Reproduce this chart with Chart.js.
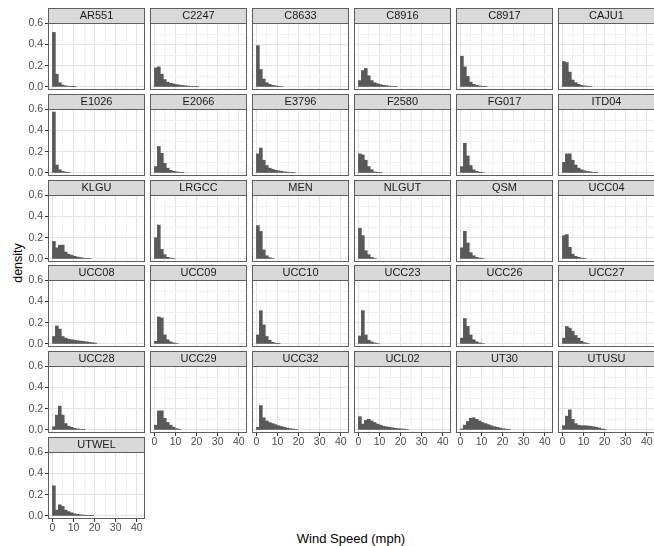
<!DOCTYPE html>
<html>
<head>
<meta charset="utf-8">
<script src="https://cdn.jsdelivr.net/npm/chart.js@4.4.0/dist/chart.umd.min.js"></script>
<style>
  html, body { margin: 0; padding: 0; }
  body {
    width: 654px; height: 546px; overflow: hidden; position: relative;
    background: #fff; font-family: "Liberation Sans", Arial, sans-serif;
  }
  canvas { position: absolute; }
  .axis-title { position: absolute; color: #000; white-space: nowrap; }
  #ylab { font-size: 12.5px; left: 18px; top: 263px; transform: translate(-50%, -50%) rotate(-90deg); }
  #xlab { font-size: 13px; left: 351px; top: 538px; transform: translate(-50%, -50%); }
</style>
</head>
<body>
<div id="ylab" class="axis-title">density</div>
<div id="xlab" class="axis-title">Wind Speed (mph)</div>
<script>
// --- Datos ---

// estaciones (orden de los paneles)
const sites = [
  'AR551', 'C2247', 'C8633', 'C8916', 'C8917', 'CAJU1',
  'E1026', 'E2066', 'E3796', 'F2580', 'FG017', 'ITD04',
  'KLGU', 'LRGCC', 'MEN', 'NLGUT', 'QSM', 'UCC04',
  'UCC08', 'UCC09', 'UCC10', 'UCC23', 'UCC26', 'UCC27',
  'UCC28', 'UCC29', 'UCC32', 'UCL02', 'UT30', 'UTUSU',
  'UTWEL'
];

// centros de los intervalos del histograma (mph)
const binCenters = [0.7, 2.1, 3.5, 4.9, 6.3, 7.7, 9.1, 10.5, 11.9, 13.3, 14.7, 16.1, 17.5, 18.9, 20.3, 21.7, 23.1];

// densidad por estación
const dAR551 = [0.515, 0.12, 0.04, 0.018, 0.01, 0.006, 0.003, 0.002];
const dC2247 = [0.18, 0.19, 0.12, 0.07, 0.045, 0.035, 0.028, 0.022, 0.018, 0.014, 0.011, 0.008, 0.006, 0.004, 0.003];
const dC8633 = [0.39, 0.165, 0.075, 0.04, 0.025, 0.015, 0.01, 0.006, 0.004];
const dC8916 = [0.06, 0.155, 0.175, 0.105, 0.06, 0.04, 0.03, 0.022, 0.016, 0.012, 0.008, 0.005, 0.003];
const dC8917 = [0.29, 0.19, 0.1, 0.045, 0.025, 0.015, 0.01, 0.006, 0.003];
const dCAJU1 = [0.24, 0.23, 0.14, 0.065, 0.04, 0.025, 0.015, 0.01, 0.007, 0.004];
const dE1026 = [0.575, 0.075, 0.03, 0.015, 0.008, 0.004];
const dE2066 = [0.06, 0.25, 0.185, 0.09, 0.045, 0.025, 0.015, 0.01, 0.006, 0.004];
const dE3796 = [0.18, 0.235, 0.12, 0.07, 0.045, 0.035, 0.025, 0.02, 0.015, 0.01, 0.007, 0.005, 0.003];
const dF2580 = [0.18, 0.17, 0.12, 0.06, 0.03, 0.01, 0.003, 0.006];
const dFG017 = [0.06, 0.28, 0.16, 0.07, 0.03, 0.015, 0.008, 0.004];
const dITD04 = [0.1, 0.18, 0.18, 0.12, 0.075, 0.045, 0.03, 0.02, 0.014, 0.01, 0.006, 0.004];
const dKLGU  = [0.165, 0.105, 0.13, 0.13, 0.065, 0.045, 0.035, 0.025, 0.018, 0.013, 0.008, 0.005, 0.003];
const dLRGCC = [0.2, 0.32, 0.09, 0.04, 0.015, 0.008, 0.004];
const dMEN   = [0.315, 0.26, 0.085, 0.03, 0.012, 0.005];
const dNLGUT = [0.29, 0.22, 0.078, 0.04, 0.015, 0.006];
const dQSM   = [0.105, 0.26, 0.15, 0.06, 0.03, 0.015, 0.008, 0.004];
const dUCC04 = [0.22, 0.23, 0.11, 0.045, 0.025, 0.015, 0.008, 0.004];
const dUCC08 = [0.07, 0.17, 0.14, 0.07, 0.055, 0.045, 0.04, 0.035, 0.03, 0.027, 0.024, 0.02, 0.016, 0.012, 0.008];
const dUCC09 = [0.025, 0.255, 0.245, 0.085, 0.04, 0.02, 0.01, 0.005];
const dUCC10 = [0.085, 0.315, 0.18, 0.07, 0.035, 0.015, 0.007, 0.003];
const dUCC23 = [0.075, 0.315, 0.085, 0.035, 0.02, 0.01, 0.005];
const dUCC26 = [0.055, 0.24, 0.165, 0.085, 0.04, 0.02, 0.01, 0.005];
const dUCC27 = [0.055, 0.165, 0.15, 0.12, 0.08, 0.055, 0.025, 0.012, 0.006];
const dUCC28 = [0.03, 0.14, 0.225, 0.14, 0.06, 0.035, 0.025, 0.015, 0.01, 0.006, 0.003];
const dUCC29 = [0.045, 0.18, 0.18, 0.11, 0.07, 0.045, 0.025, 0.012, 0.006];
const dUCC32 = [0.025, 0.23, 0.115, 0.085, 0.07, 0.06, 0.05, 0.04, 0.032, 0.025, 0.018, 0.012, 0.008, 0.005];
const dUCL02 = [0.125, 0.055, 0.09, 0.1, 0.085, 0.07, 0.055, 0.045, 0.035, 0.03, 0.025, 0.02, 0.015, 0.012, 0.01, 0.008, 0.005];
const dUT30  = [0.01, 0.045, 0.08, 0.11, 0.115, 0.1, 0.085, 0.07, 0.06, 0.05, 0.04, 0.03, 0.025, 0.018, 0.012, 0.008, 0.005];
const dUTUSU = [0.04, 0.13, 0.19, 0.1, 0.06, 0.045, 0.04, 0.04, 0.038, 0.035, 0.03, 0.025, 0.018, 0.01, 0.005];
const dUTWEL = [0.285, 0.055, 0.105, 0.09, 0.055, 0.04, 0.03, 0.02, 0.015, 0.01, 0.008, 0.006, 0.004, 0.003];

const densities = [
  dAR551, dC2247, dC8633, dC8916, dC8917, dCAJU1,
  dE1026, dE2066, dE3796, dF2580, dFG017, dITD04,
  dKLGU, dLRGCC, dMEN, dNLGUT, dQSM, dUCC04,
  dUCC08, dUCC09, dUCC10, dUCC23, dUCC26, dUCC27,
  dUCC28, dUCC29, dUCC32, dUCL02, dUT30, dUTUSU,
  dUTWEL
];

// marcas de los ejes (mayores y menores alternadas)
const xGrid = [0, 5, 10, 15, 20, 25, 30, 35, 40];
const yGrid = [0, 0.1, 0.2, 0.3, 0.4, 0.5, 0.6];

// --- Geometría de la rejilla de paneles ---
const NCOL = 6;
const PANEL_X0 = 48, COL_STEP = 101.9;
const STRIP_Y0 = 8, ROW_STEP = 85.8;
const PW = 97, PH = 67, STRIP_H = 15;
const Y_AXIS_W = 30, X_AXIS_H = 16;

const FONT = '"Liberation Sans", Arial, sans-serif';
Chart.defaults.font.family = FONT;

// Dibuja fondo del panel, franja gris y borde
const facetPlugin = {
  id: 'facet',
  beforeDraw(chart) {
    const { ctx, chartArea: a } = chart;
    ctx.save();
    ctx.fillStyle = '#ffffff';
    ctx.fillRect(a.left, a.top, a.right - a.left, a.bottom - a.top);
    ctx.fillStyle = '#d9d9d9';
    ctx.fillRect(a.left, a.top - STRIP_H, a.right - a.left, STRIP_H);
    ctx.restore();
  },
  afterDraw(chart) {
    const { ctx, chartArea: a } = chart;
    ctx.save();
    ctx.strokeStyle = '#5e5e5e';
    ctx.lineWidth = 1;
    ctx.strokeRect(a.left + 0.5, a.top - STRIP_H + 0.5, a.right - a.left - 1, STRIP_H);
    ctx.strokeRect(a.left + 0.5, a.top + 0.5, a.right - a.left - 1, a.bottom - a.top - 1);
    ctx.restore();
  }
};

function createPanel(i) {
  const col = i % NCOL;
  const row = Math.floor(i / NCOL);
  const showY = col === 0;
  const showX = i + NCOL >= sites.length;

  const canvas = document.createElement('canvas');
  canvas.width = Y_AXIS_W + PW;
  canvas.height = STRIP_H + PH + X_AXIS_H;
  canvas.style.left = (Math.round(PANEL_X0 + col * COL_STEP) - Y_AXIS_W) + 'px';
  canvas.style.top = Math.round(STRIP_Y0 + row * ROW_STEP) + 'px';
  document.body.appendChild(canvas);

  const d = densities[i];
  const points = d.map((y, k) => ({ x: binCenters[k], y: y }));

  const gridColor = c => (c.index % 2 === 0 ? '#e4e4e4' : '#f1f1f1');
  const tickColor = c => (c.index % 2 === 0 ? '#333333' : 'rgba(0,0,0,0)');

  new Chart(canvas.getContext('2d'), {
    type: 'bar',
    data: {
      datasets: [{
        data: points,
        backgroundColor: '#595959',
        borderWidth: 0,
        barPercentage: 1,
        categoryPercentage: 1
      }]
    },
    options: {
      responsive: false,
      animation: false,
      events: [],
      layout: { padding: 0 },
      plugins: {
        legend: { display: false },
        tooltip: { enabled: false },
        title: {
          display: true,
          fullSize: false,
          text: sites[i],
          color: '#1a1a1a',
          font: { size: 11, weight: 'normal', lineHeight: '12px' },
          padding: { top: 2, bottom: 1 }
        }
      },
      scales: {
        x: {
          type: 'linear',
          min: -2.09,
          max: 43.89,
          offset: false,
          afterBuildTicks: axis => { axis.ticks = xGrid.map(v => ({ value: v })); },
          afterFit: axis => { axis.height = X_AXIS_H; },
          ticks: {
            display: showX,
            autoSkip: false,
            maxRotation: 0,
            padding: 0,
            color: '#4d4d4d',
            font: { size: 10.5 },
            callback: (v, idx) => (idx % 2 === 0 ? String(v) : '')
          },
          grid: {
            offset: false,
            color: gridColor,
            lineWidth: 1,
            drawTicks: showX,
            tickLength: 3,
            tickColor: tickColor
          },
          border: { display: false }
        },
        y: {
          min: -0.029,
          max: 0.604,
          afterBuildTicks: axis => { axis.ticks = yGrid.map(v => ({ value: v })); },
          afterFit: axis => { axis.width = Y_AXIS_W; },
          ticks: {
            display: showY,
            padding: 2,
            color: '#4d4d4d',
            font: { size: 10.5 },
            callback: (v, idx) => (idx % 2 === 0 ? v.toFixed(1) : '')
          },
          grid: {
            color: gridColor,
            lineWidth: 1,
            drawTicks: showY,
            tickLength: 3,
            tickColor: tickColor
          },
          border: { display: false }
        }
      }
    },
    plugins: [facetPlugin]
  });
}

sites.forEach((s, i) => createPanel(i));
</script>
</body>
</html>
